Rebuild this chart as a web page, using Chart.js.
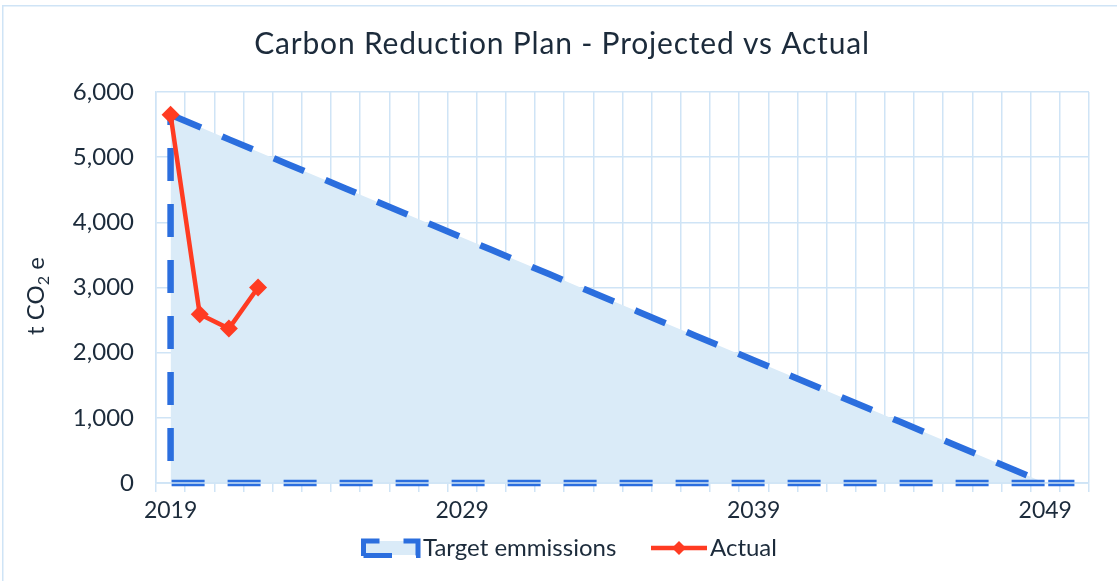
<!DOCTYPE html>
<html>
<head>
<meta charset="utf-8">
<script src="https://cdn.jsdelivr.net/npm/chart.js@4.4.1/dist/chart.umd.min.js"></script>
<style>
  html, body { margin: 0; padding: 0; background: #ffffff; }
  canvas { display: block; }
</style>
</head>
<body>
<canvas id="c" width="1117" height="581"></canvas>
<script>
// ---- data ----
const years = ['2019','2020','2021','2022','2023','2024','2025','2026','2027','2028',
               '2029','2030','2031','2032','2033','2034','2035','2036','2037','2038',
               '2039','2040','2041','2042','2043','2044','2045','2046','2047','2048',
               '2049','2050'];
const targetEmissions = [5650, 5462, 5273, 5085, 4897, 4708, 4520, 4332, 4143, 3955,
                         3767, 3578, 3390, 3202, 3013, 2825, 2637, 2448, 2260, 2072,
                         1883, 1695, 1507, 1318, 1130, 942, 753, 565, 377, 188,
                         0, 0];
const actual = [5650, 2590, 2370, 3000];
const yTicks = [0, 1000, 2000, 3000, 4000, 5000, 6000];
const xLabelEvery = 10;

const titleText = 'Carbon Reduction Plan - Projected vs Actual';
const legendTarget = 'Target emmissions';
const legendActual = 'Actual';

// ---- styles ----
const FONT = 'Lato, "Open Sans", sans-serif';
const TEXT = '#1c2b3b';
const GRID = '#cfe4f6';
const FILL = '#daebf8';
const BLUE = '#2b6ede';
const RED = '#ff3b22';
const DASH = [33, 23];

// outline of the target area: top edge, then back along the base, then up the left side
const outline = [];
years.forEach((y, i) => outline.push({ x: y, y: targetEmissions[i] }));
outline.push({ x: years[0], y: 0 });
outline.push({ x: years[0], y: targetEmissions[0] });

const deco = {
  id: 'deco',
  beforeDraw(chart) {
    const c = chart.ctx;
    c.save();
    c.fillStyle = '#ffffff';
    c.fillRect(0, 0, chart.width, chart.height);
    c.strokeStyle = GRID;
    c.lineWidth = 1.5;
    c.beginPath();
    c.moveTo(2.75, chart.height);
    c.lineTo(2.75, 5.75);
    c.lineTo(chart.width, 5.75);
    c.stroke();
    c.restore();
  },
  afterDatasetsDraw(chart) {
    const c = chart.ctx, a = chart.chartArea;
    c.save();
    c.strokeStyle = GRID;
    c.lineWidth = 1.5;
    c.beginPath();
    c.moveTo(a.left, a.bottom);
    c.lineTo(a.right, a.bottom);
    c.stroke();
    c.restore();
  },
  afterDraw(chart) {
    const c = chart.ctx;
    c.save();
    c.fillStyle = TEXT;
    // title
    c.font = '30px ' + FONT;
    c.letterSpacing = '0.8px';
    c.textAlign = 'center';
    c.textBaseline = 'middle';
    c.fillText(titleText, 562, 44);
    c.letterSpacing = '0px';
    // y axis title with subscript
    c.translate(36, 296);
    c.rotate(-Math.PI / 2);
    c.textAlign = 'left';
    c.textBaseline = 'alphabetic';
    const big = '24px ' + FONT, small = '16px ' + FONT;
    c.font = big;
    const p1 = 't CO', p3 = ' e';
    const w1 = c.measureText(p1).width, w3 = c.measureText(p3).width;
    c.font = small;
    const w2 = c.measureText('2').width;
    let x = -(w1 + w2 + w3) / 2;
    c.font = big; c.fillText(p1, x, 8); x += w1;
    c.font = small; c.fillText('2', x, 13); x += w2;
    c.font = big; c.fillText(p3, x, 8);
    c.setTransform(1, 0, 0, 1, 0, 0);
    // legend: target
    c.fillStyle = FILL;
    c.fillRect(363, 541, 55, 14);
    c.strokeStyle = BLUE;
    c.lineWidth = 5;
    c.setLineDash([31, 24]);
    c.beginPath();
    c.moveTo(363.5, 556);
    c.lineTo(363.5, 541);
    c.lineTo(418, 541);
    c.lineTo(418, 555.5);
    c.lineTo(363.5, 555.5);
    c.stroke();
    c.setLineDash([]);
    c.fillStyle = TEXT;
    c.font = '24px ' + FONT;
    c.textAlign = 'left';
    c.textBaseline = 'middle';
    c.fillText(legendTarget, 423, 548);
    // legend: actual
    c.strokeStyle = RED;
    c.lineWidth = 4.5;
    c.beginPath();
    c.moveTo(651, 548);
    c.lineTo(707, 548);
    c.stroke();
    c.fillStyle = RED;
    c.beginPath();
    c.moveTo(679, 541); c.lineTo(686, 548); c.lineTo(679, 555); c.lineTo(672, 548);
    c.closePath();
    c.fill();
    c.fillStyle = TEXT;
    c.fillText(legendActual, 710, 548);
    c.restore();
  }
};

new Chart(document.getElementById('c'), {
  type: 'line',
  data: {
    labels: years,
    datasets: [
      {
        label: legendActual,
        data: actual,
        borderColor: RED,
        backgroundColor: RED,
        borderWidth: 4.5,
        pointStyle: 'rectRot',
        pointRadius: 9,
        pointBorderWidth: 0,
        pointBackgroundColor: RED,
        fill: false,
        order: 0,
        clip: false
      },
      {
        label: legendTarget + ' outline',
        data: outline,
        borderColor: BLUE,
        borderWidth: 6.5,
        borderDash: DASH,
        borderCapStyle: 'butt',
        borderJoinStyle: 'miter',
        pointRadius: 0,
        fill: false,
        order: 1,
        clip: false
      },
      {
        label: legendTarget,
        data: targetEmissions,
        borderWidth: 0,
        borderColor: FILL,
        backgroundColor: FILL,
        pointRadius: 0,
        fill: 'origin',
        order: 2
      }
    ]
  },
  options: {
    responsive: false,
    devicePixelRatio: 1,
    animation: false,
    events: [],
    layout: { padding: { top: 92, right: 28, bottom: 0, left: 0 } },
    plugins: { legend: { display: false }, title: { display: false }, tooltip: { enabled: false } },
    scales: {
      x: {
        type: 'category',
        offset: true,
        grid: { offset: true, color: GRID, lineWidth: 1.5, drawTicks: true, tickLength: 9 },
        border: { display: true, color: GRID, width: 1.5 },
        ticks: {
          autoSkip: false, maxRotation: 0, minRotation: 0, padding: 5,
          color: TEXT, font: { family: FONT, size: 23 },
          callback: (v, i) => (i % xLabelEvery === 0 ? years[i] : '')
        },
        afterFit: s => { s.height = 98; }
      },
      y: {
        min: yTicks[0], max: yTicks[yTicks.length - 1],
        afterBuildTicks: s => { s.ticks = yTicks.map(v => ({ value: v })); },
        grid: { color: GRID, lineWidth: 1.5, drawTicks: false },
        border: { display: true, color: GRID, width: 1.5 },
        ticks: {
          padding: 22, color: TEXT, font: { family: FONT, size: 24 },
          callback: v => v.toLocaleString('en-US')
        },
        afterFit: s => { s.width = 156; }
      }
    }
  },
  plugins: [deco]
});
</script>
</body>
</html>
